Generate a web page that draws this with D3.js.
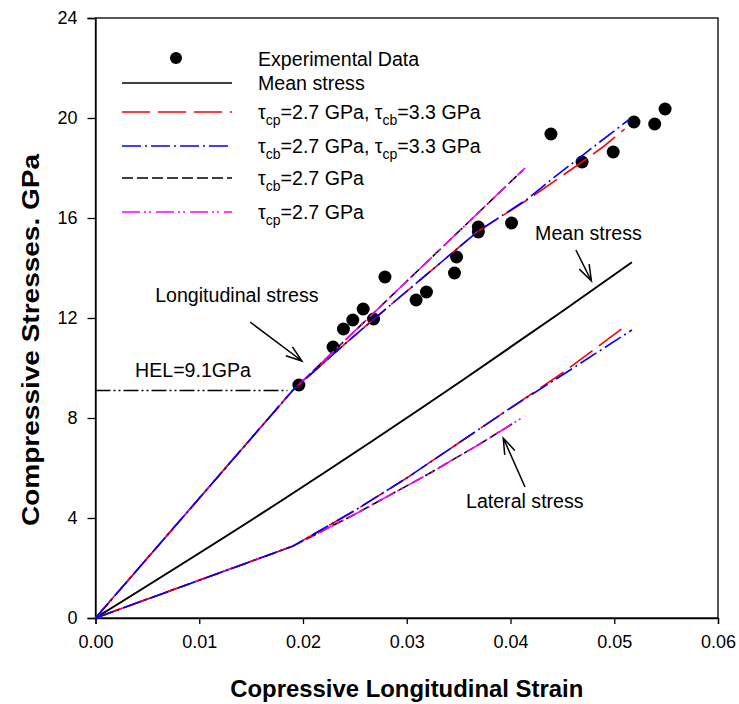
<!DOCTYPE html>
<html>
<head>
<meta charset="utf-8">
<script src="https://cdn.jsdelivr.net/npm/d3@7"></script>
<style>
  html, body { margin: 0; padding: 0; background: #fff; }
  svg { display: block; }
  text { font-family: "Liberation Sans", Arial, sans-serif; fill: #000; }
</style>
</head>
<body>
<svg id="chart" width="739" height="704"></svg>
<script>
// Experimental shock data (strain, stress in GPa)
const expStrain = [0.0196, 0.0229, 0.0239, 0.0248, 0.0258, 0.0268, 0.0279, 0.0309, 0.0319, 0.0346,
                   0.0348, 0.0369, 0.0369, 0.0401, 0.0439, 0.0469, 0.0499, 0.0519, 0.0539, 0.0549];
const expStress = [9.32, 10.84, 11.56, 11.92, 12.36, 11.96, 13.64, 12.72, 13.04, 13.80,
                   14.44, 15.64, 15.44, 15.80, 19.36, 18.24, 18.64, 19.84, 19.76, 20.36];

// Mean stress
const meanStrain = [0, 0.0178, 0.0353, 0.0449, 0.0517];
const meanStress = [0, 4.66, 9.49, 12.24, 14.23];

// tau_cp = 2.7, tau_cb = 3.3 (red)
const redLongStrain = [0, 0.019, 0.024, 0.029, 0.0368, 0.0416, 0.0469, 0.0489, 0.0510];
const redLongStress = [0, 9.1, 10.95, 12.72, 15.45, 16.72, 18.24, 18.84, 19.56];
const redLatStrain  = [0, 0.019, 0.025, 0.030, 0.035, 0.040, 0.045, 0.0511];
const redLatStress  = [0, 2.87, 4.30, 5.60, 7.00, 8.40, 9.80, 11.68];

// tau_cb = 2.7, tau_cp = 3.3 (blue)
const blueLongStrain = [0, 0.019, 0.024, 0.029, 0.0368, 0.0416, 0.0441, 0.0486, 0.0515];
const blueLongStress = [0, 9.1, 10.95, 12.72, 15.45, 16.75, 17.59, 19.04, 19.96];
const blueLatStrain  = [0, 0.019, 0.025, 0.030, 0.035, 0.040, 0.045, 0.0517];
const blueLatStress  = [0, 2.87, 4.30, 5.60, 7.00, 8.40, 9.72, 11.52];

// tau_cb = 2.7 (black dashed)
const blackLongStrain = [0, 0.019, 0.030, 0.0412];
const blackLongStress = [0, 9.1, 13.47, 17.92];
const blackLatStrain  = [0, 0.019, 0.025, 0.032, 0.037, 0.0405];
const blackLatStress  = [0, 2.87, 4.15, 5.74, 6.95, 7.85];

// tau_cp = 2.7 (magenta)
const magLongStrain = [0, 0.019, 0.030, 0.0414];
const magLongStress = [0, 9.1, 13.47, 18.0];
const magLatStrain  = [0, 0.019, 0.025, 0.032, 0.037, 0.0414];
const magLatStress  = [0, 2.87, 4.15, 5.74, 6.95, 8.08];

// Hugoniot elastic limit
const helStress = 9.1;
const helStrainEnd = 0.0185;

// Axis ticks
const xTicks = [0, 0.01, 0.02, 0.03, 0.04, 0.05, 0.06];
const yTicks = [0, 4, 8, 12, 16, 20, 24];

const svg = d3.select("#chart");
const x = d3.scaleLinear().domain([0, 0.06]).range([95.5, 718]);
const y = d3.scaleLinear().domain([0, 24]).range([618, 18]);

const zip = (xs, ys) => xs.map((v, i) => [v, ys[i]]);
const line = d3.line().x(d => x(d[0])).y(d => y(d[1]));
const smoothLine = d3.line().x(d => x(d[0])).y(d => y(d[1])).curve(d3.curveMonotoneX);

// Frame
svg.append("rect")
  .attr("x", x(0)).attr("y", y(24))
  .attr("width", x(0.06) - x(0)).attr("height", y(0) - y(24))
  .attr("fill", "none").attr("stroke", "#000").attr("stroke-width", 1.3);

// Axes
const xAxis = svg.append("g").attr("transform", `translate(0,${y(0)})`)
  .call(d3.axisBottom(x).tickValues(xTicks).tickFormat(d3.format(".2f")).tickSize(6).tickPadding(11));
const yAxis = svg.append("g").attr("transform", `translate(${x(0)},0)`)
  .call(d3.axisLeft(y).tickValues(yTicks).tickFormat(d3.format("d")).tickSize(8).tickPadding(10));
[xAxis, yAxis].forEach(g => {
  g.select(".domain").attr("stroke", "#000").attr("stroke-width", 1.3);
  g.selectAll(".tick line").attr("stroke", "#000").attr("stroke-width", 1.3);
  g.selectAll(".tick text").attr("font-size", 18).attr("font-family", "Liberation Sans, Arial, sans-serif").attr("fill", "#000");
});

// Axis titles
svg.append("text")
  .attr("x", (x(0) + x(0.06)) / 2).attr("y", 697)
  .attr("text-anchor", "middle").attr("font-size", 23).attr("font-weight", "bold")
  .attr("textLength", 353).attr("lengthAdjust", "spacingAndGlyphs")
  .text("Copressive Longitudinal Strain");
svg.append("text")
  .attr("transform", `translate(39,${340}) rotate(-90)`)
  .attr("text-anchor", "middle").attr("font-size", 24).attr("font-weight", "bold")
  .attr("textLength", 372).attr("lengthAdjust", "spacingAndGlyphs")
  .text("Compressive Stresses. GPa");

// HEL line
svg.append("path")
  .attr("d", line([[0, helStress], [helStrainEnd, helStress]]))
  .attr("fill", "none").attr("stroke", "#000").attr("stroke-width", 1.3)
  .attr("stroke-dasharray", "15,3,2,3,2,3");

// Experimental points
svg.append("g").selectAll("circle")
  .data(zip(expStrain, expStress)).join("circle")
  .attr("cx", d => x(d[0])).attr("cy", d => y(d[1])).attr("r", 6.5).attr("fill", "#000");

// Model curves
const styles = {
  red:     { color: "#ff0000", dash: "28,8" },
  blue:    { color: "#0000ff", dash: "19,4,2,4" },
  black:   { color: "#000000", dash: "11,4" },
  magenta: { color: "#ff00ff", dash: "18,4,2,3,2,5" }
};
const curves = [
  ["black", blackLongStrain, blackLongStress], ["black", blackLatStrain, blackLatStress],
  ["magenta", magLongStrain, magLongStress], ["magenta", magLatStrain, magLatStress],
  ["red", redLongStrain, redLongStress], ["red", redLatStrain, redLatStress],
  ["blue", blueLongStrain, blueLongStress], ["blue", blueLatStrain, blueLatStress]
];
svg.append("path")
  .attr("d", smoothLine(zip(meanStrain, meanStress)))
  .attr("fill", "none").attr("stroke", "#000").attr("stroke-width", 2);
curves.forEach(([k, xs, ys]) => {
  svg.append("path")
    .attr("d", line(zip(xs, ys)))
    .attr("fill", "none").attr("stroke", styles[k].color).attr("stroke-width", 1.6)
    .attr("stroke-dasharray", styles[k].dash);
});

// Annotations: label text and arrow (tail -> tip) in data units
const annotations = [
  { text: "Longitudinal stress", tx: 0.00575, ty: 12.64, tail: [0.0149, 11.84], tip: [0.0199, 10.28] },
  { text: "Mean stress",         tx: 0.04237, ty: 15.12, tail: [0.0463, 14.72], tip: [0.0478, 13.48] },
  { text: "Lateral stress",      tx: 0.03571, ty: 4.40,  tail: [0.0414, 5.24],  tip: [0.0393, 7.20] },
  { text: "HEL=9.1GPa",          tx: 0.00381, ty: 9.64,  tail: null, tip: null }
];
annotations.forEach(a => {
  svg.append("text").attr("x", x(a.tx)).attr("y", y(a.ty))
    .attr("font-size", 19.6).text(a.text);
  if (a.tail) {
    const x1 = x(a.tail[0]), y1 = y(a.tail[1]), x2 = x(a.tip[0]), y2 = y(a.tip[1]);
    const ang = Math.atan2(y1 - y2, x1 - x2);
    const L = 17, h = 0.33;
    const b1 = [x2 + L * Math.cos(ang + h), y2 + L * Math.sin(ang + h)];
    const b2 = [x2 + L * Math.cos(ang - h), y2 + L * Math.sin(ang - h)];
    svg.append("path")
      .attr("d", `M${x1},${y1}L${x2},${y2}M${b1[0]},${b1[1]}L${x2},${y2}L${b2[0]},${b2[1]}`)
      .attr("fill", "none").attr("stroke", "#000").attr("stroke-width", 1.5);
  }
});

// Legend
const legend = svg.append("g");
const lx0 = 122, lx1 = 232, ltx = 258;
legend.append("circle").attr("cx", 176).attr("cy", 58).attr("r", 6).attr("fill", "#000");
legend.append("text").attr("x", ltx).attr("y", 66).attr("font-size", 19.6).text("Experimental Data");
legend.append("line").attr("x1", lx0).attr("x2", lx1).attr("y1", 83).attr("y2", 83)
  .attr("stroke", "#000").attr("stroke-width", 1.5);
legend.append("text").attr("x", ltx).attr("y", 90).attr("font-size", 19.6).text("Mean stress");

const legendRows = [
  { key: "red",     y: 112, parts: [["τ", ""], ["cp", "sub"], ["=2.7 GPa, τ", ""], ["cb", "sub"], ["=3.3 GPa", ""]] },
  { key: "blue",    y: 146, parts: [["τ", ""], ["cb", "sub"], ["=2.7 GPa, τ", ""], ["cp", "sub"], ["=3.3 GPa", ""]] },
  { key: "black",   y: 178, parts: [["τ", ""], ["cb", "sub"], ["=2.7 GPa", ""]] },
  { key: "magenta", y: 212, parts: [["τ", ""], ["cp", "sub"], ["=2.7 GPa", ""]] }
];
legendRows.forEach(r => {
  legend.append("line").attr("x1", lx0).attr("x2", lx1).attr("y1", r.y).attr("y2", r.y)
    .attr("stroke", styles[r.key].color).attr("stroke-width", 1.6)
    .attr("stroke-dasharray", styles[r.key].dash);
  const t = legend.append("text").attr("x", ltx).attr("y", r.y + 6.5).attr("font-size", 19.6);
  let shifted = false;
  r.parts.forEach(([s, kind]) => {
    const ts = t.append("tspan").text(s);
    if (kind === "sub") { ts.attr("font-size", 14).attr("dy", 6); shifted = true; }
    else if (shifted) { ts.attr("dy", -6); shifted = false; }
  });
});
</script>
</body>
</html>
